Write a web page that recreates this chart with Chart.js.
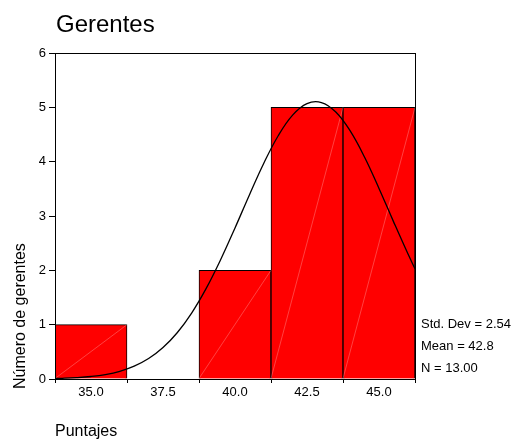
<!DOCTYPE html>
<html>
<head>
<meta charset="utf-8">
<script src="https://cdn.jsdelivr.net/npm/chart.js@4/dist/chart.umd.min.js"></script>
<style>
  html, body { margin: 0; padding: 0; background: #fff; }
  canvas { display: block; }
</style>
</head>
<body>
<canvas id="c" width="512" height="440"></canvas>
<script>
// Histogram of scores (Puntajes) for managers, with fitted normal curve
const binCenters = [35.0, 37.5, 40.0, 42.5, 45.0];
const binCounts  = [1, 0, 2, 5, 5];
const xTicks     = [35.0, 37.5, 40.0, 42.5, 45.0];
const yTicks     = [0, 1, 2, 3, 4, 5, 6];

// normal curve traced over the histogram
const curveX = [33.75, 34.0, 34.5, 35.0, 35.5, 36.0, 36.5, 37.0, 37.5, 38.0, 38.5, 39.0, 39.5,
                40.0, 40.5, 41.0, 41.5, 42.0, 42.5, 43.0, 43.5, 44.0, 44.5, 45.0, 45.5, 46.0, 46.25];
const curveY = [0.01, 0.013, 0.025, 0.046, 0.082, 0.142, 0.236, 0.376, 0.579, 0.856, 1.218, 1.667, 2.195,
                2.78, 3.388, 3.971, 4.477, 4.857, 5.069, 5.088, 4.914, 4.565, 4.08, 3.507, 2.901, 2.308, 2.03];

const statLines = ['Std. Dev = 2.54', 'Mean = 42.8', 'N = 13.00'];
const titleText = 'Gerentes';
const xTitle = 'Puntajes';
const yTitle = 'Número de gerentes';

const FONT = 'Arial, "Liberation Sans", sans-serif';

const decorations = {
  id: 'decorations',
  afterDatasetDraw(chart, args) {
    // faint diagonal across each bar, bottom-left to top-right
    if (args.index !== 0) return;
    const ctx = chart.ctx;
    ctx.save();
    ctx.strokeStyle = 'rgba(255,200,200,0.55)';
    ctx.lineWidth = 0.6;
    args.meta.data.forEach(bar => {
      const p = bar.getProps(['x', 'y', 'base', 'width']);
      if (Math.abs(p.base - p.y) < 1) return;
      ctx.beginPath();
      ctx.moveTo(p.x - p.width / 2, p.base);
      ctx.lineTo(p.x + p.width / 2, p.y);
      ctx.stroke();
    });
    ctx.restore();
  },
  afterDraw(chart) {
    const ctx = chart.ctx;
    const a = chart.chartArea;
    ctx.save();
    // frame around plot area
    ctx.strokeStyle = '#000';
    ctx.lineWidth = 1;
    ctx.strokeRect(Math.round(a.left) + 0.5, Math.round(a.top) + 0.5,
                   Math.round(a.right - a.left), Math.round(a.bottom - a.top));
    ctx.fillStyle = '#000';
    // title
    ctx.font = '24px ' + FONT;
    ctx.textAlign = 'left';
    ctx.textBaseline = 'alphabetic';
    ctx.fillText(titleText, 56, 32);
    // x axis title
    ctx.font = '16px ' + FONT;
    ctx.fillText(xTitle, 55, 436);
    // y axis title
    ctx.save();
    ctx.translate(25, 389);
    ctx.rotate(-Math.PI / 2);
    ctx.fillText(yTitle, 0, 0);
    ctx.restore();
    // statistics
    ctx.font = '13px ' + FONT;
    ctx.textBaseline = 'middle';
    const ys = [324, 346, 368];
    statLines.forEach((s, i) => ctx.fillText(s, 421, ys[i]));
    ctx.restore();
  }
};

new Chart(document.getElementById('c'), {
  type: 'bar',
  data: {
    datasets: [
      {
        type: 'bar',
        data: binCenters.map((x, i) => ({ x: x, y: binCounts[i] })),
        backgroundColor: '#ff0000',
        borderColor: '#000',
        borderWidth: 1,
        categoryPercentage: 1.0,
        barPercentage: 1.0,
        order: 2
      },
      {
        type: 'line',
        data: curveX.map((x, i) => ({ x: x, y: curveY[i] })),
        borderColor: '#000',
        borderWidth: 1.3,
        pointRadius: 0,
        fill: false,
        tension: 0.4,
        order: 1
      }
    ]
  },
  options: {
    responsive: false,
    animation: false,
    layout: { padding: { left: 0, top: 53, right: 97, bottom: 0 } },
    plugins: { legend: { display: false }, tooltip: { enabled: false }, title: { display: false } },
    scales: {
      x: {
        type: 'linear',
        min: 33.75,
        max: 46.25,
        offset: false,
        afterBuildTicks: s => { s.ticks = xTicks.map(v => ({ value: v })); },
        afterFit: s => { s.height = 61; },
        ticks: {
          color: '#000',
          font: { family: FONT, size: 13 },
          padding: 2,
          maxRotation: 0,
          autoSkip: false,
          callback: v => Number(v).toFixed(1)
        },
        grid: { drawOnChartArea: false, drawTicks: true, tickLength: 4, color: '#000' },
        border: { display: true, color: '#000', width: 1 }
      },
      y: {
        min: 0,
        max: 6,
        afterBuildTicks: s => { s.ticks = yTicks.map(v => ({ value: v })); },
        afterFit: s => { s.width = 55; },
        ticks: {
          color: '#000',
          font: { family: FONT, size: 13 },
          padding: 3,
          callback: v => String(v)
        },
        grid: { drawOnChartArea: false, drawTicks: true, tickLength: 6, color: '#000' },
        border: { display: true, color: '#000', width: 1 }
      }
    }
  },
  plugins: [decorations]
});
</script>
</body>
</html>
